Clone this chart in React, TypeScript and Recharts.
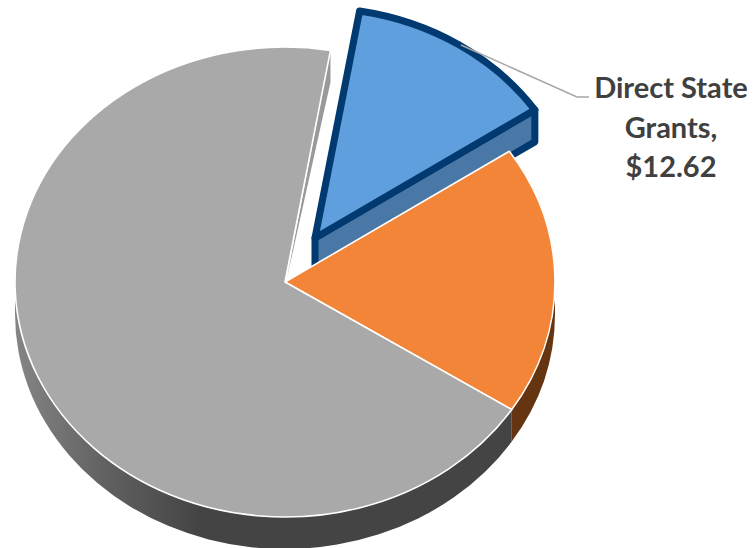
import React from "react";
import { PieChart, Pie } from "recharts";

const categories = ["Direct State Grants", "Other Aid", "Remaining Funding"];
const amounts = [12.62, 18.1, 67.0];
const faceColors = ["#5F9FDD", "#F38539", "#A9A9A9"];
const labelLines = ["Direct State", "Grants,", "$12.62"];

const rows = categories.map((name, i) => ({ name, value: amounts[i], fill: faceColors[i] }));

const W = 753;
const H = 548;
const CX = 285;
const CY = 282;
const R = 270;
const SQUASH = 235 / 270;
const DEPTH = 32;
const START = 80.3;
const EXPLODE = { dx: 30, dy: -44, scale: 0.98 };
const NAVY = "#003A70";

const pt = (cx: number, cy: number, r: number, a: number, dy = 0) => {
  const t = (a * Math.PI) / 180;
  return { x: cx + r * Math.cos(t), y: cy - r * SQUASH * Math.sin(t) + dy };
};

const geom = (p: any) => {
  const exploded = p.index === 0;
  return {
    cx: p.cx + (exploded ? EXPLODE.dx : 0),
    cy: p.cy + (exploded ? EXPLODE.dy : 0),
    r: p.outerRadius * (exploded ? EXPLODE.scale : 1),
  };
};

const TopFace = (p: any) => {
  const { cx, cy, r } = geom(p);
  const a = pt(cx, cy, r, p.startAngle);
  const b = pt(cx, cy, r, p.endAngle);
  const large = Math.abs(p.endAngle - p.startAngle) > 180 ? 1 : 0;
  const d = `M${cx},${cy}L${a.x},${a.y}A${r},${r * SQUASH} 0 ${large} 1 ${b.x},${b.y}Z`;
  const isBlue = p.index === 0;
  return (
    <path
      d={d}
      fill={p.fill}
      stroke={isBlue ? NAVY : "#FFFFFF"}
      strokeWidth={isBlue ? 7 : 1.6}
      strokeLinejoin="round"
    />
  );
};

const WallFace = (p: any) => {
  const { cx, cy, r } = geom(p);
  if (p.index === 0) {
    const rim = pt(cx, cy, r, p.endAngle);
    const d = `M${cx},${cy}L${rim.x},${rim.y}L${rim.x},${rim.y + DEPTH}L${cx},${cy + DEPTH}Z`;
    return <path d={d} fill="#4A78A6" stroke={NAVY} strokeWidth={7} strokeLinejoin="round" />;
  }
  const from = Math.min(p.startAngle, 0);
  const to = Math.max(p.endAngle, -180);
  const a = pt(cx, cy, r, from);
  const b = pt(cx, cy, r, to);
  const d =
    `M${a.x},${a.y}A${r},${r * SQUASH} 0 0 1 ${b.x},${b.y}` +
    `L${b.x},${b.y + DEPTH}A${r},${r * SQUASH} 0 0 0 ${a.x},${a.y + DEPTH}Z`;
  if (p.index === 1) {
    return <path d={d} fill="#643510" />;
  }
  const rim = pt(cx, cy, r, p.endAngle);
  return (
    <g>
      <defs>
        <linearGradient id="grayWall" gradientUnits="userSpaceOnUse" x1={15} y1={0} x2={200} y2={0}>
          <stop offset="0" stopColor="#858585" />
          <stop offset="0.5" stopColor="#606060" />
          <stop offset="1" stopColor="#444444" />
        </linearGradient>
      </defs>
      <path d={d} fill="url(#grayWall)" />
      <path d={`M${rim.x},${rim.y}L${rim.x},${rim.y + DEPTH}L${cx + 2},${cy - 4}Z`} fill="#999999" />
    </g>
  );
};

const renderLabel = (p: any) => {
  if (p.index !== 0) return null;
  return (
    <g>
      <polyline points="461,45 577,97 589,97" fill="none" stroke="#A6A6A6" strokeWidth={1.5} />
      <text
        textAnchor="middle"
        fontFamily="Lato, 'Open Sans', sans-serif"
        fontWeight={700}
        fontSize={29}
        fill="#404040"
      >
        {labelLines.map((line, i) => (
          <tspan key={line} x={671} y={98 + i * 39.5}>
            {line}
          </tspan>
        ))}
      </text>
    </g>
  );
};

export default function App() {
  return (
    <div style={{ position: "absolute", left: 0, top: 0, width: W, height: H }}>
      <PieChart width={W} height={H} margin={{ top: 0, right: 0, bottom: 0, left: 0 }}>
        <Pie
          data={rows}
          dataKey="value"
          nameKey="name"
          cx={CX}
          cy={CY}
          innerRadius={0}
          outerRadius={R}
          startAngle={START}
          endAngle={START - 360}
          stroke="none"
          shape={WallFace}
          isAnimationActive={false}
        />
        <Pie
          data={rows}
          dataKey="value"
          nameKey="name"
          cx={CX}
          cy={CY}
          innerRadius={0}
          outerRadius={R}
          startAngle={START}
          endAngle={START - 360}
          shape={TopFace}
          label={renderLabel}
          labelLine={false}
          isAnimationActive={false}
        />
      </PieChart>
    </div>
  );
}
